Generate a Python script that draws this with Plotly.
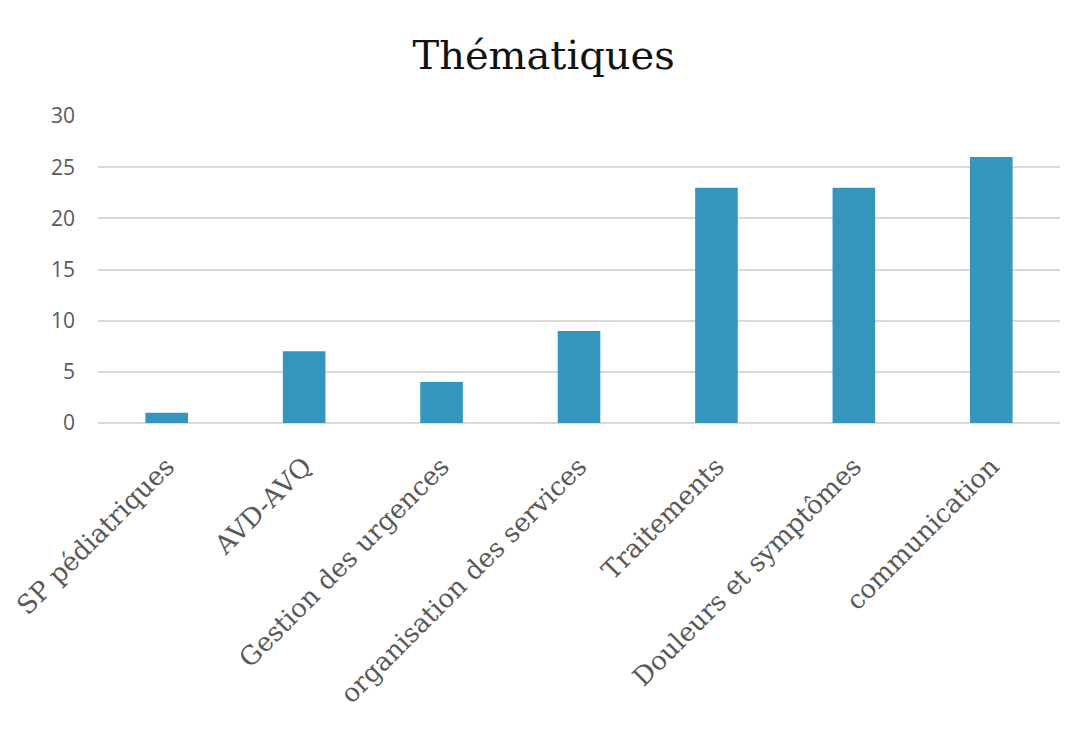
import plotly.graph_objects as go

categories = ["SP pédiatriques", "AVD-AVQ", "Gestion des urgences", "organisation des services",
              "Traitements", "Douleurs et symptômes", "communication"]
values = [1, 7, 4, 9, 23, 23, 26]
y_ticks = [0, 5, 10, 15, 20, 25, 30]

fig = go.Figure(go.Bar(x=categories, y=values, marker_color="#3596BD", marker_line_width=0))
fig.update_layout(
    width=1081, height=734,
    paper_bgcolor="white", plot_bgcolor="white",
    margin=dict(l=90, r=29, t=108, b=319, autoexpand=False),
    bargap=0.69,
    showlegend=False,
    title=dict(text="Thématiques", x=0.4955, xanchor="center", y=0.936, yanchor="middle",
               font=dict(family="DejaVu Serif", size=40, color="#111111")),
)
fig.update_xaxes(tickangle=-45, tickfont=dict(family="DejaVu Serif", size=26, color="#595959"),
                 showgrid=False, showline=False, ticks="", ticklabelstandoff=22, automargin=False)
fig.update_yaxes(range=[0, 30], tickvals=y_ticks, showgrid=True, gridcolor="#D9D9D9", gridwidth=1.5,
                 zeroline=True, zerolinecolor="#D9D9D9", zerolinewidth=1.5, showline=False,
                 tickfont=dict(family="Open Sans", size=21, color="#595959"), ticklabelstandoff=22,
                 automargin=False)
fig.write_html("out.html")
